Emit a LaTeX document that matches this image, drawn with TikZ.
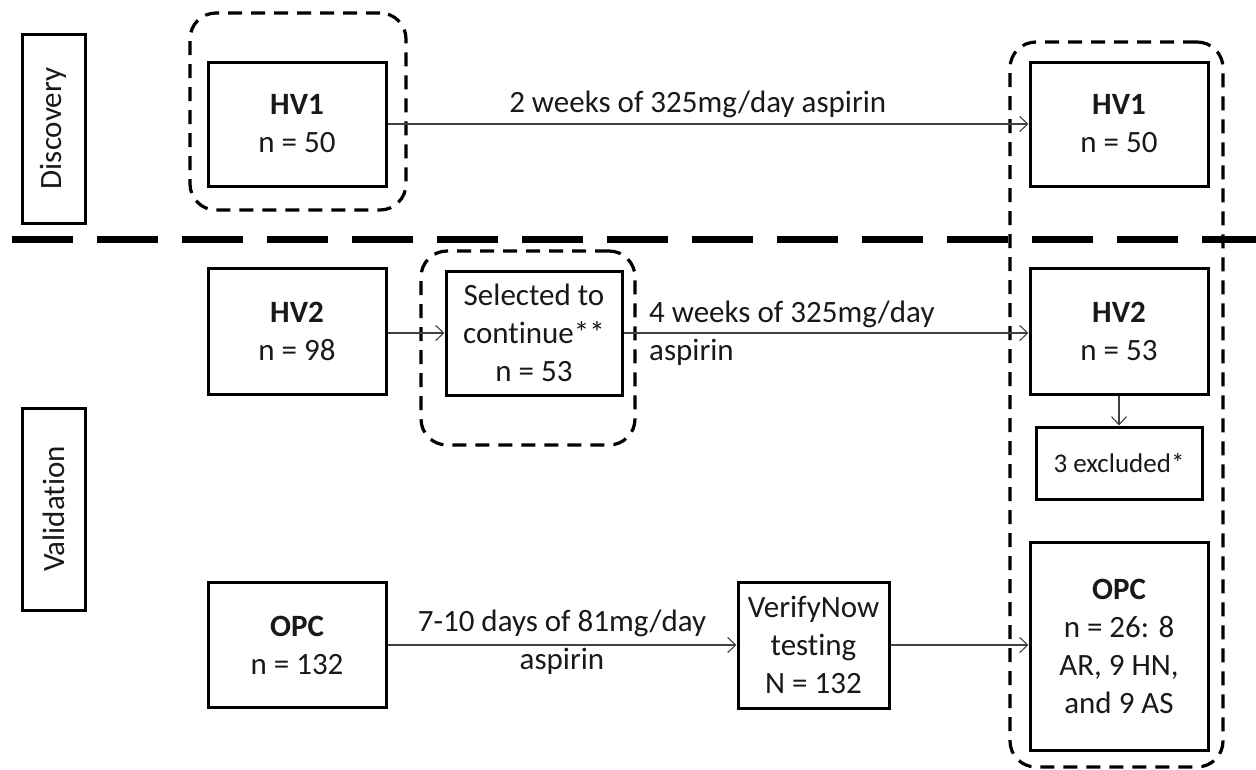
\documentclass[tikz,border=0pt]{standalone}
\usepackage{fontspec}
\setmainfont{Carlito}[Ligatures={NoCommon,NoDiscretionary}]
\usetikzlibrary{arrows.meta}
\begin{document}
\begin{tikzpicture}[x=1pt,y=-1pt,
  txt/.style={font=\fontsize{31}{38}\selectfont, text=black!90},
  box/.style={txt, draw=black, line width=3pt, align=center, inner sep=0pt},
  phase/.style={box, rotate=90, minimum height=63pt},
  group/.style={draw=black, line width=3.2pt, dash pattern=on 14pt off 9pt, rounded corners=26pt, inner sep=0pt},
  conn/.style={draw=black!75, line width=1.3pt, -{Straight Barb[length=8pt,width=15pt,line width=1.1pt]}},
  lbl/.style={txt, inner sep=0pt}
]
\useasboundingbox (0,0) rectangle (1256,769);
\fill[white] (0,0) rectangle (1256,769);

% phases
\node[phase, minimum width=189pt] (disc) at (53.5,128.5) {Discovery};
\node[phase, minimum width=202pt] (valid) at (53.5,509) {Validation};

% separator
\coordinate (sepL) at (12,239);
\coordinate (sepR) at (1256,239);
\draw[line width=7pt, dash pattern=on 61pt off 24pt] (sepL) -- (sepR);

% group outlines
\node[group, minimum width=216pt, minimum height=197pt] (g1) at (298,111.5) {};
\node[group, minimum width=214pt, minimum height=194pt] (g2) at (528,348) {};
\node[group, minimum width=213pt, minimum height=725pt] (g3) at (1116.5,404.5) {};

% boxes
\node[box, minimum width=178pt, minimum height=124pt] (hv1a) at (297,124) {\textbf{HV1}\\n = 50};
\node[box, minimum width=178pt, minimum height=124pt] (hv1b) at (1119,124) {\textbf{HV1}\\n = 50};
\node[box, minimum width=178pt, minimum height=126pt] (hv2a) at (297,331) {\textbf{HV2}\\n = 98};
\node[box, minimum width=176pt, minimum height=124pt] (sel) at (534,333) {Selected to\\continue**\\n = 53};
\node[box, minimum width=178pt, minimum height=126pt] (hv2b) at (1119,331) {\textbf{HV2}\\n = 53};
\node[box, minimum width=166pt, minimum height=72pt, font=\fontsize{27}{32}\selectfont] (excl) at (1119,463) {3 excluded*};
\node[box, minimum width=178pt, minimum height=125pt] (opca) at (297,645) {\textbf{OPC}\\n = 132};
\node[box, minimum width=151pt, minimum height=126pt] (vn) at (813.5,645) {VerifyNow\\testing\\N = 132};
\node[box, minimum width=178pt, minimum height=208pt] (opcb) at (1119,646) {\textbf{OPC}\\n = 26: 8\\AR, 9 HN,\\and 9 AS};

% connectors
\draw[conn] (hv1a.east) -- node[lbl, pos=0.484, above=6pt] {2 weeks of 325mg/day aspirin} (hv1b.west);
\draw[conn] (hv2a.east |- sel.west) -- (sel.west);
\draw[conn] (sel.east) -- node[lbl, pos=0, anchor=west, xshift=25pt, align=left] {4 weeks of 325mg/day\\aspirin} (hv2b.west |- sel.east);
\draw[conn] (hv2b.south) -- (excl.north);
\draw[conn] (opca.east) -- node[lbl, pos=0.5, align=center, yshift=3pt] {7-10 days of 81mg/day\\aspirin} (vn.west);
\draw[conn] (vn.east) -- (opcb.west |- vn.east);
\end{tikzpicture}
\end{document}
